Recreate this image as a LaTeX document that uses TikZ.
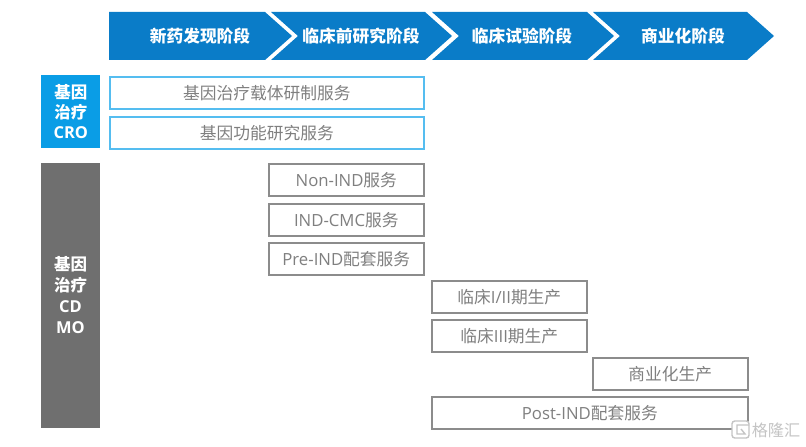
\documentclass[tikz,border=0pt]{standalone}
\usepackage{fontspec}
\usepackage{xcolor}
\setmainfont{Noto Sans CJK SC}
\newfontfamily\lat{Open Sans}
\usetikzlibrary{positioning,calc}
\definecolor{phaseblue}{HTML}{0A7CC8}
\definecolor{croblue}{HTML}{0A9DE6}
\definecolor{croline}{HTML}{55BDF0}
\definecolor{cmogray}{HTML}{6F6F6F}
\definecolor{boxgray}{HTML}{8C8C8C}
\definecolor{txtgray}{HTML}{7F7F7F}
\definecolor{marque}{HTML}{C4C4C4}

\begin{document}
\begin{tikzpicture}[
    x=0.025cm,y=-0.025cm,
    phase/.style   = {fill=phaseblue, draw=none},
    nomphase/.style= {font=\fontsize{11.9}{13}\selectfont\bfseries, text=white, inner sep=0pt},
    cote/.style    = {font=\fontsize{11.7}{14.2}\selectfont\bfseries, text=white, align=center,
                      anchor=north west, inner sep=0pt, minimum width=1.475cm},
    crobox/.style  = {draw=croline, line width=1.1pt, fill=white, text=txtgray, inner sep=0pt,
                      anchor=north west, font=\fontsize{11.9}{13}\selectfont, minimum height=0.8cm},
    cmobox/.style  = {crobox, draw=boxgray},
  ]
  \useasboundingbox (0,0) rectangle (806,446);

  % ── Phases ──────────────────────────────────────────────────────────────
  \fill[phase] (109,12) -- (265,12) -- (292,36) -- (265,60) -- (109,60) -- cycle;
  \fill[phase] (271,12) -- (425,12) -- (452,36) -- (425,60) -- (271,60) -- (298,36) -- cycle;
  \fill[phase] (432,12) -- (587,12) -- (614,36) -- (587,60) -- (432,60) -- (459,36) -- cycle;
  \fill[phase] (593,12) -- (747,12) -- (774,36) -- (747,60) -- (593,60) -- (620,36) -- cycle;
  \node[nomphase] (decouv) at (200,36) {新药发现阶段};
  \node[nomphase] (precl)  at (361,36) {临床前研究阶段};
  \node[nomphase] (essai)  at (522,36) {临床试验阶段};
  \node[nomphase] (comm)   at (683,36) {商业化阶段};

  % ── Colonne de gauche ───────────────────────────────────────────────────
  \node[cote,fill=croblue,minimum height=1.825cm] (cro) at (41,75) {基因\\治疗\\{\lat CRO}};
  \fill[cmogray] (41,163) rectangle (100,428);
  \node[font=\fontsize{11.7}{15}\selectfont\bfseries,text=white,align=center,inner sep=0pt]
       (cmo) at (70.5,295) {基因\\治疗\\{\lat CD}\\{\lat MO}};

  % ── Services CRO ────────────────────────────────────────────────────────
  \node[crobox,minimum width=7.85cm] (vect) at (109,76)  {基因治疗载体研制服务};
  \node[crobox,minimum width=7.85cm] (fonc) at (109,116) {基因功能研究服务};

  % ── Services CDMO ───────────────────────────────────────────────────────
  \node[cmobox,minimum width=3.875cm] (nonind) at (268,163) {{\lat Non-IND}服务};
  \node[cmobox,minimum width=3.875cm] (indcmc) at (268,203) {{\lat IND-CMC}服务};
  \node[cmobox,minimum width=3.875cm] (preind) at (268,242) {{\lat Pre-IND}配套服务};
  \node[cmobox,minimum width=3.875cm] (clin12) at (431,280) {临床{\lat I/II}期生产};
  \node[cmobox,minimum width=3.875cm] (clin3)  at (431,319) {临床{\lat III}期生产};
  \node[cmobox,minimum width=3.875cm] (prod)   at (592,357) {商业化生产};
  \node[cmobox,minimum width=7.9cm] (post) at (431,396) {{\lat Post-IND}配套服务};

  % ── Filigrane ───────────────────────────────────────────────────────────
  \draw[marque,line width=1pt,fill=white,rounded corners=2pt] (732,421) rectangle (749,438);
  \draw[marque,line width=1pt] (749,425) -- (737,425) -- (737,434) -- (745,434) -- (741,429);
  \node[font=\fontsize{11.5}{13}\selectfont,text=marque,inner sep=0pt] (marq) at (776,430) {格隆汇};

\end{tikzpicture}
\end{document}
